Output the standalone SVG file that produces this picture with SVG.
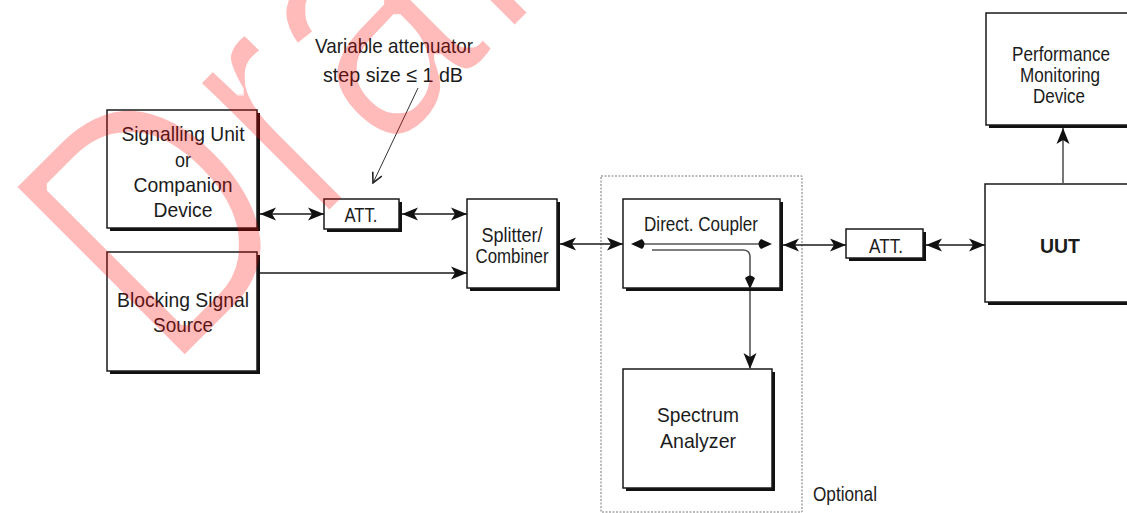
<svg xmlns="http://www.w3.org/2000/svg" width="1127" height="513" viewBox="0 0 1127 513">
<defs>
<style>
.box{fill:#fff;stroke:#1a1a1a;stroke-width:1.5}
.sh{fill:#111}
.t{font-family:"Liberation Sans",Arial,sans-serif;font-size:21px;fill:#1c1c1c;text-anchor:middle}
.b{font-weight:bold}
.ln{fill:none;stroke:#1a1a1a;stroke-width:1.6}
.gl{fill:none;stroke:#555;stroke-width:1.6}
</style>
<marker id="arr" viewBox="0 0 16 14" refX="16" refY="7" markerWidth="16" markerHeight="14" markerUnits="userSpaceOnUse" orient="auto-start-reverse">
<path d="M0,0.5 L16,7 L0,13.5 L4,7 Z" fill="#111"/>
</marker>
<marker id="open" viewBox="0 0 12 12" refX="11" refY="6" markerWidth="12" markerHeight="12" markerUnits="userSpaceOnUse" orient="auto">
<path d="M1,1 L11,6 L1,11" fill="none" stroke="#222" stroke-width="1.6"/>
</marker>
<filter id="thin" filterUnits="userSpaceOnUse" x="0" y="0" width="1127" height="513">
<feMorphology operator="erode" radius="2.5"/>
</filter>
</defs>
<rect width="1127" height="513" fill="#fff"/>

<g id="optional-frame">
<rect x="601" y="176" width="201" height="336" fill="none" stroke="#777" stroke-width="1" stroke-dasharray="2,1.5"/>
<text class="t" x="845" y="501" textLength="64" lengthAdjust="spacingAndGlyphs" font-size="18">Optional</text>
</g>

<g id="signalling-unit">
<rect class="sh" x="110" y="113" width="150" height="118"/>
<rect class="box" x="107" y="110" width="150" height="118"/>
<text class="t" x="183" y="141" textLength="123" lengthAdjust="spacingAndGlyphs">Signalling Unit</text>
<text class="t" x="183" y="167" textLength="16" lengthAdjust="spacingAndGlyphs">or</text>
<text class="t" x="183" y="192" textLength="99" lengthAdjust="spacingAndGlyphs">Companion</text>
<text class="t" x="183" y="217" textLength="59" lengthAdjust="spacingAndGlyphs">Device</text>
</g>

<g id="blocking-source">
<rect class="sh" x="110" y="255" width="150" height="119"/>
<rect class="box" x="107" y="252" width="150" height="119"/>
<text class="t" x="183" y="307" textLength="132" lengthAdjust="spacingAndGlyphs">Blocking Signal</text>
<text class="t" x="183" y="332" textLength="60" lengthAdjust="spacingAndGlyphs">Source</text>
</g>

<g id="att1">
<rect class="sh" x="327" y="202" width="75" height="30"/>
<rect class="box" x="324" y="199" width="75" height="30"/>
<text class="t" x="361" y="222" font-size="19" textLength="33" lengthAdjust="spacingAndGlyphs">ATT.</text>
</g>

<g id="splitter">
<rect class="sh" x="470" y="202" width="90" height="89"/>
<rect class="box" x="467" y="199" width="90" height="89"/>
<text class="t" x="512" y="242" textLength="61" lengthAdjust="spacingAndGlyphs">Splitter/</text>
<text class="t" x="512" y="263" textLength="73" lengthAdjust="spacingAndGlyphs">Combiner</text>
</g>

<g id="coupler">
<rect class="sh" x="626" y="202" width="157" height="89"/>
<rect class="box" x="623" y="199" width="157" height="89"/>
<text class="t" x="701" y="231" textLength="114" lengthAdjust="spacingAndGlyphs">Direct. Coupler</text>
<path class="gl" d="M640,244 H763"/>
<path d="M631,244 L642,239 Q647,244 642,249 Z" fill="#111"/>
<path d="M772,244 L761,239 Q756,244 761,249 Z" fill="#111"/>
<path class="gl" d="M652,250 H743 Q750,250 750,257 V278"/>
<path d="M750,289 L745,278 Q750,273 755,278 Z" fill="#111"/>
</g>

<g id="spectrum-analyzer">
<rect class="sh" x="626" y="372" width="149" height="119"/>
<rect class="box" x="623" y="369" width="149" height="119"/>
<text class="t" x="698" y="422" textLength="82" lengthAdjust="spacingAndGlyphs">Spectrum</text>
<text class="t" x="698" y="448" textLength="76" lengthAdjust="spacingAndGlyphs">Analyzer</text>
</g>

<g id="att2">
<rect class="sh" x="849" y="232" width="77" height="29"/>
<rect class="box" x="846" y="229" width="77" height="29"/>
<text class="t" x="886" y="253" font-size="19" textLength="34" lengthAdjust="spacingAndGlyphs">ATT.</text>
</g>

<g id="uut">
<rect class="sh" x="988" y="187" width="160" height="118"/>
<rect class="box" x="985" y="184" width="160" height="118"/>
<text class="t b" x="1060" y="253" textLength="40" lengthAdjust="spacingAndGlyphs">UUT</text>
</g>

<g id="performance-monitor">
<rect class="sh" x="989" y="16" width="160" height="112"/>
<rect class="box" x="986" y="13" width="160" height="112"/>
<text class="t" x="1061" y="61" font-size="18" textLength="98" lengthAdjust="spacingAndGlyphs">Performance</text>
<text class="t" x="1060" y="82" font-size="18" textLength="80" lengthAdjust="spacingAndGlyphs">Monitoring</text>
<text class="t" x="1059" y="103" font-size="18" textLength="52" lengthAdjust="spacingAndGlyphs">Device</text>
</g>

<g id="annotation">
<text class="t" x="394" y="53" textLength="158" lengthAdjust="spacingAndGlyphs">Variable attenuator</text>
<text class="t" x="393" y="82" textLength="140" lengthAdjust="spacingAndGlyphs">step size ≤ 1 dB</text>
</g>

<g id="connectors">
<path class="ln" d="M260,214 H324" marker-start="url(#arr)" marker-end="url(#arr)"/>
<path class="ln" d="M402,214 H467" marker-start="url(#arr)" marker-end="url(#arr)"/>
<path class="ln" d="M260,273 H467" marker-end="url(#arr)"/>
<path class="ln" d="M560,244 H623" marker-start="url(#arr)" marker-end="url(#arr)"/>
<path class="ln" d="M783,245 H846" marker-start="url(#arr)" marker-end="url(#arr)"/>
<path class="ln" d="M926,245 H985" marker-start="url(#arr)" marker-end="url(#arr)"/>
<path class="gl" d="M1063,184 V128" marker-end="url(#arr)"/>
<path class="gl" d="M750,291 V369" marker-end="url(#arr)"/>
<path fill="none" stroke="#333" stroke-width="1" d="M418,88 L373,183" marker-end="url(#open)"/>
</g>

<g id="watermark" filter="url(#thin)">
<text x="0" y="0" transform="translate(168,377) rotate(-45) scale(0.81,1)" font-family="Liberation Sans, Arial, sans-serif" font-size="356" fill="#ff0000" fill-opacity="0.27">Draft</text>
</g>
</svg>
